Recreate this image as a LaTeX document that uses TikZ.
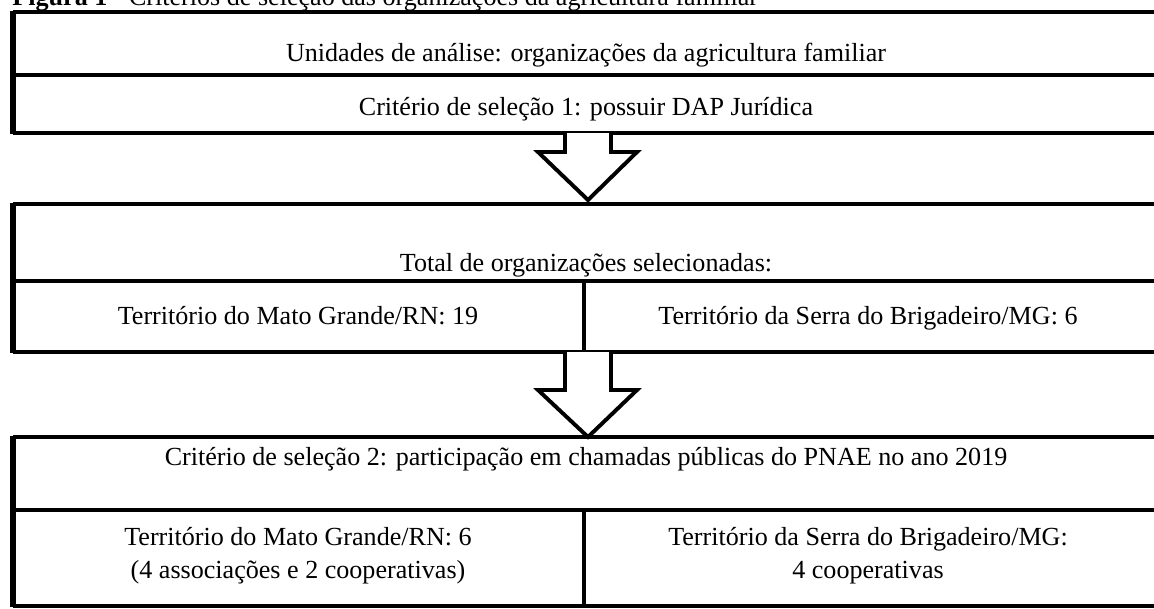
\documentclass[tikz,border=0pt]{standalone}
\usepackage{fontspec}
\setmainfont{Liberation Serif}
\begin{document}
\begin{tikzpicture}[x=0.46pt,y=-0.46pt,
  rule/.style={line width=2pt},
  edge/.style={line width=2.6pt},
  txt/.style={font=\fontsize{12}{14}\selectfont, inner sep=0pt, anchor=base},
  blockarrow/.style={line width=1.8pt, fill=white, line join=miter}]
\useasboundingbox (0,0) rectangle (1154,608);

% Caption (cut at the top)
\node[txt, anchor=base west] (caption) at (12,5)
  {\textbf{Figura 1} - Critérios de seleção das organizações da agricultura familiar};

% Box 1
\draw[rule] (13,12) -- (1160,12);
\draw[rule] (13,75) -- (1160,75);
\draw[rule] (13,133) -- (1160,133);
\draw[edge] (13,11) -- (13,134);
\node[txt] (units) at (586,61) {Unidades de análise: organizações da agricultura familiar};
\node[txt] (crit1) at (586,115) {Critério de seleção 1: possuir DAP Jurídica};

% Arrow 1
\draw[blockarrow] (565,133) -- (565,152) -- (538,152) -- (588,200)
  -- (637,152) -- (611,152) -- (611,133);

% Box 2
\draw[rule] (13,204) -- (1160,204);
\draw[rule] (13,281) -- (1160,281);
\draw[rule] (13,352) -- (1160,352);
\draw[edge] (13,203) -- (13,353);
\draw[rule] (584,281) -- (584,353);
\node[txt] (total) at (586,271) {Total de organizações selecionadas:};
\node[txt] (matoA) at (298,324) {Território do Mato Grande/RN: 19};
\node[txt] (serraA) at (868,324) {Território da Serra do Brigadeiro/MG: 6};

% Arrow 2
\draw[blockarrow] (565,352) -- (565,390) -- (538,390) -- (588,437)
  -- (637,390) -- (611,390) -- (611,352);

% Box 3
\draw[rule] (13,437) -- (1160,437);
\draw[rule] (13,510) -- (1160,510);
\draw[rule] (13,606) -- (1160,606);
\draw[edge] (13,436) -- (13,607);
\draw[rule] (584,510) -- (584,607);
\node[txt] (crit2) at (586,465) {Critério de seleção 2: participação em chamadas públicas do PNAE no ano 2019};
\node[txt] (matoB) at (298,545) {Território do Mato Grande/RN: 6};
\node[txt] (matoBsub) at (298,578) {(4 associações e 2 cooperativas)};
\node[txt] (serraB) at (868,545) {Território da Serra do Brigadeiro/MG:};
\node[txt] (serraBsub) at (868,578) {4 cooperativas};
\end{tikzpicture}
\end{document}
